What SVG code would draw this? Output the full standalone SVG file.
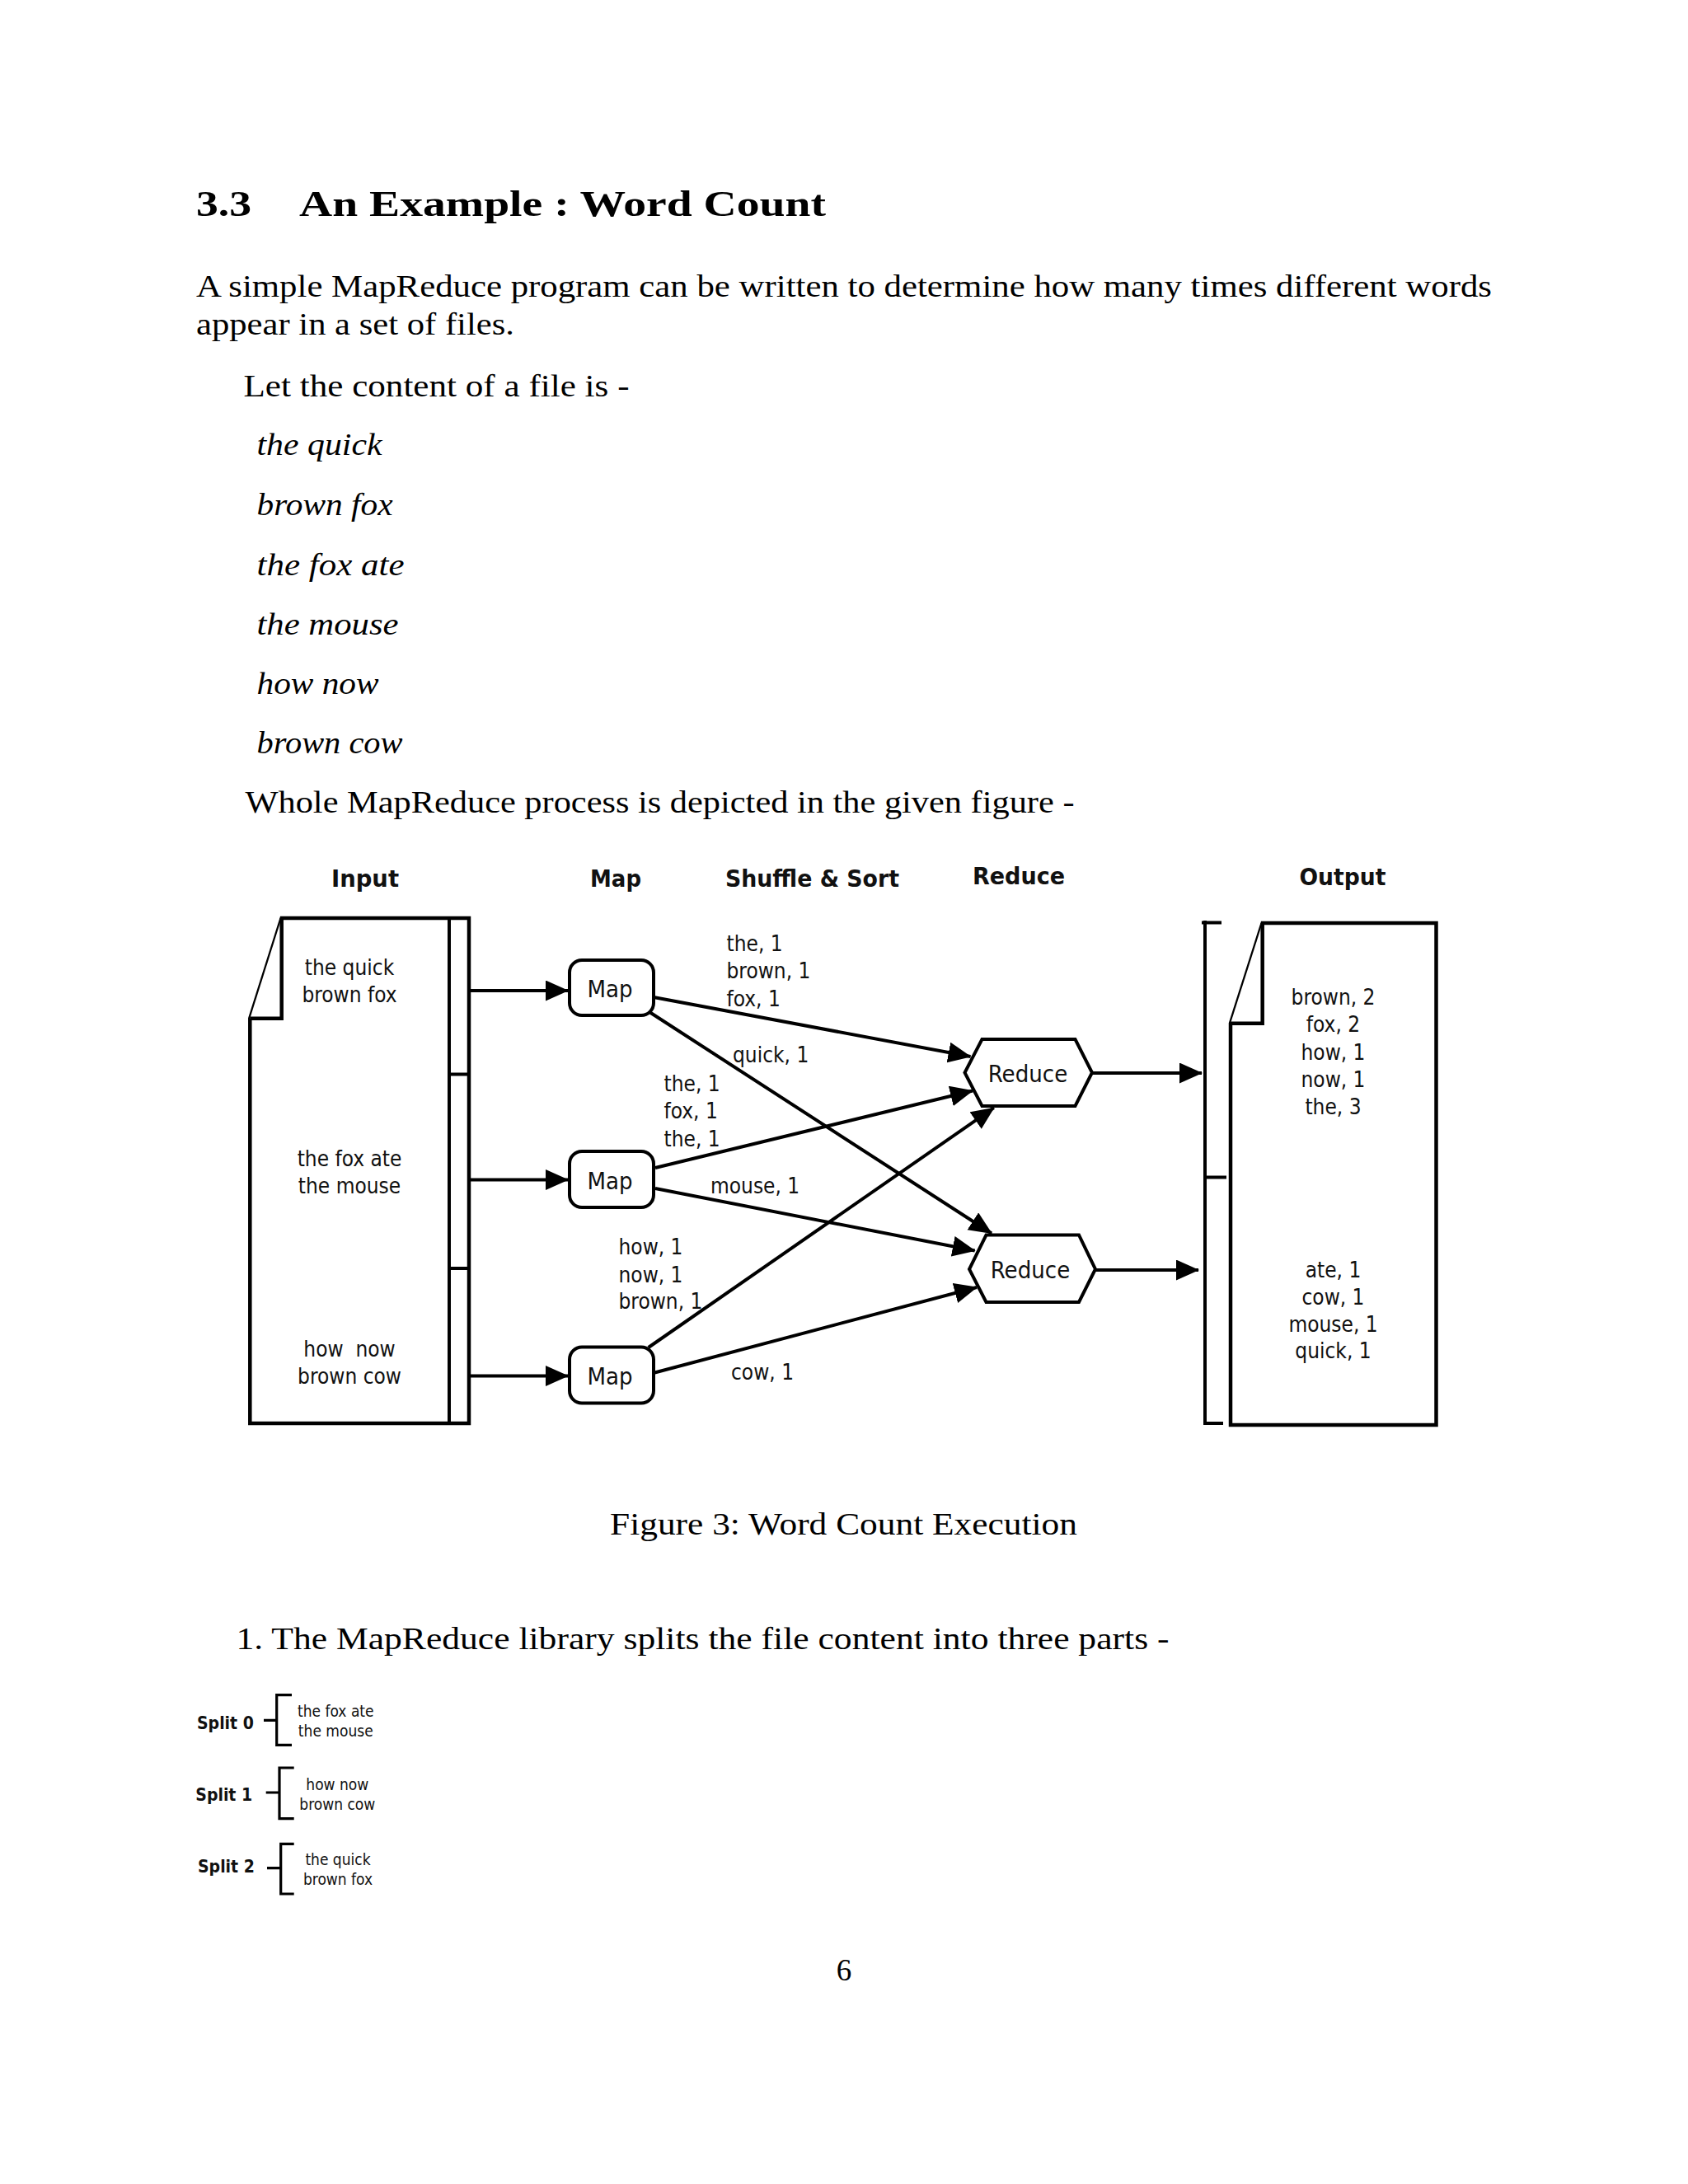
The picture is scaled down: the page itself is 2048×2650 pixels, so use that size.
<svg xmlns="http://www.w3.org/2000/svg" width="2048" height="2650" viewBox="0 0 2048 2650">
<defs>
<style>
.t{font-family:"Liberation Serif","Times New Roman",serif;font-size:37px;fill:#000}
.ti{font-style:italic}
.h{font-weight:bold;font-size:45px}
.d{font-family:"DejaVu Sans Condensed","DejaVu Sans",sans-serif;font-size:26px;fill:#111}
.dm{font-size:29px}
.db{font-family:"DejaVu Sans Condensed","DejaVu Sans",sans-serif;font-weight:bold;font-size:28px;fill:#111}
.sb{font-family:"DejaVu Sans Condensed","DejaVu Sans",sans-serif;font-weight:bold;font-size:21px;fill:#111}
.ss{font-family:"DejaVu Sans Condensed","DejaVu Sans",sans-serif;font-size:19px;fill:#111}
.ln{stroke:#000;stroke-width:4;fill:none}
.bx{stroke:#000;stroke-width:4;fill:#fff}
.doc{stroke:#000;stroke-width:4.5;fill:#fff;stroke-linejoin:miter}
.br{stroke:#000;stroke-width:3.2;fill:none}
</style>
<marker id="ah" markerUnits="userSpaceOnUse" markerWidth="30" markerHeight="26" refX="27" refY="12.5" orient="auto">
<path d="M0,0 L28,12.5 L0,25 Z" fill="#000"/>
</marker>
</defs>
<rect x="0" y="0" width="2048" height="2650" fill="#fff"/>

<g id="page-text">
<text class="t h" x="238" y="261.5" textLength="67" lengthAdjust="spacingAndGlyphs">3.3</text>
<text class="t h" x="363" y="261.5" textLength="639" lengthAdjust="spacingAndGlyphs">An Example : Word Count</text>
<text class="t" x="238" y="360" textLength="1572" lengthAdjust="spacingAndGlyphs">A simple MapReduce program can be written to determine how many times different words</text>
<text class="t" x="238" y="406" textLength="386" lengthAdjust="spacingAndGlyphs">appear in a set of files.</text>
<text class="t" x="295.5" y="480.5" textLength="468" lengthAdjust="spacingAndGlyphs">Let the content of a file is -</text>
<text class="t ti" x="311.5" y="552" textLength="152" lengthAdjust="spacingAndGlyphs">the quick</text>
<text class="t ti" x="311.5" y="624.5" textLength="165" lengthAdjust="spacingAndGlyphs">brown fox</text>
<text class="t ti" x="311.5" y="697.5" textLength="179" lengthAdjust="spacingAndGlyphs">the fox ate</text>
<text class="t ti" x="311.5" y="770" textLength="172" lengthAdjust="spacingAndGlyphs">the mouse</text>
<text class="t ti" x="311.5" y="841.5" textLength="148" lengthAdjust="spacingAndGlyphs">how now</text>
<text class="t ti" x="311.5" y="914" textLength="177" lengthAdjust="spacingAndGlyphs">brown cow</text>
<text class="t" x="297.5" y="985.5" textLength="1006" lengthAdjust="spacingAndGlyphs">Whole MapReduce process is depicted in the given figure -</text>
<text class="t" x="740" y="1862" textLength="567" lengthAdjust="spacingAndGlyphs">Figure 3: Word Count Execution</text>
<text class="t" x="286.5" y="2001" textLength="1132" lengthAdjust="spacingAndGlyphs">1. The MapReduce library splits the file content into three parts -</text>
<text class="t" x="1024" y="2403" text-anchor="middle" font-size="38">6</text>
</g>

<g id="headers">
<text class="db" x="443" y="1076" text-anchor="middle" textLength="82" lengthAdjust="spacingAndGlyphs">Input</text>
<text class="db" x="747" y="1076" text-anchor="middle" textLength="62" lengthAdjust="spacingAndGlyphs">Map</text>
<text class="db" x="985.5" y="1076" text-anchor="middle" textLength="211" lengthAdjust="spacingAndGlyphs">Shuffle &amp; Sort</text>
<text class="db" x="1236" y="1072.5" text-anchor="middle" textLength="112" lengthAdjust="spacingAndGlyphs">Reduce</text>
<text class="db" x="1629" y="1074" text-anchor="middle" textLength="105" lengthAdjust="spacingAndGlyphs">Output</text>
</g>

<g id="input-doc">
<path class="doc" d="M341.7,1114 H569 V1727 H303.3 V1235.7 L341.7,1114 Z"/>
<path class="doc" d="M341.7,1114 V1235.7 H303.3"/>
<path class="ln" stroke-width="4.5" d="M545,1114 V1727 M545,1303.5 H569 M545,1539 H569"/>
<text class="d" x="424" y="1183" text-anchor="middle">the quick</text>
<text class="d" x="424" y="1216" text-anchor="middle">brown fox</text>
<text class="d" x="424" y="1415" text-anchor="middle">the fox ate</text>
<text class="d" x="424" y="1448" text-anchor="middle">the mouse</text>
<text class="d" x="424" y="1646" text-anchor="middle" xml:space="preserve">how  now</text>
<text class="d" x="424" y="1679" text-anchor="middle">brown cow</text>
</g>

<g id="map1">
<rect class="bx" x="691" y="1165" width="102" height="67" rx="15" ry="15"/>
<text class="d dm" x="740" y="1210" text-anchor="middle">Map</text>
</g>
<g id="map2">
<rect class="bx" x="691" y="1397" width="102" height="68" rx="15" ry="15"/>
<text class="d dm" x="740" y="1442.5" text-anchor="middle">Map</text>
</g>
<g id="map3">
<rect class="bx" x="691" y="1634.5" width="102" height="68" rx="15" ry="15"/>
<text class="d dm" x="740" y="1680" text-anchor="middle">Map</text>
</g>

<g id="reduce1">
<polygon class="bx" points="1191.5,1261 1304.5,1261 1325,1301.5 1304.5,1342 1191.5,1342 1170.5,1301.5"/>
<text class="d dm" x="1247" y="1312.5" text-anchor="middle">Reduce</text>
</g>
<g id="reduce2">
<polygon class="bx" points="1196.5,1498.5 1309,1498.5 1329,1540 1309,1580 1196.5,1580 1176,1540"/>
<text class="d dm" x="1250" y="1551" text-anchor="middle">Reduce</text>
</g>

<g id="output-doc">
<path class="ln" stroke-width="4.5" d="M1462,1117 V1729 M1458,1119.5 H1482 M1462,1428.5 H1488 M1462,1727 H1484"/>
<path class="doc" d="M1531.7,1120 H1742.5 V1729 H1493 V1241.7 L1531.7,1120 Z"/>
<path class="doc" d="M1531.7,1120 V1241.7 H1493"/>
<text class="d" x="1617.5" y="1218.5" text-anchor="middle">brown, 2</text>
<text class="d" x="1617.5" y="1252" text-anchor="middle">fox, 2</text>
<text class="d" x="1617.5" y="1285.5" text-anchor="middle">how, 1</text>
<text class="d" x="1617.5" y="1318.5" text-anchor="middle">now, 1</text>
<text class="d" x="1617.5" y="1351.5" text-anchor="middle">the, 3</text>
<text class="d" x="1617.5" y="1550" text-anchor="middle">ate, 1</text>
<text class="d" x="1617.5" y="1583" text-anchor="middle">cow, 1</text>
<text class="d" x="1617.5" y="1616" text-anchor="middle">mouse, 1</text>
<text class="d" x="1617.5" y="1648" text-anchor="middle">quick, 1</text>
</g>

<g id="connectors">
<line class="ln" x1="569" y1="1202" x2="689" y2="1202" marker-end="url(#ah)"/>
<line class="ln" x1="569" y1="1431.5" x2="689" y2="1431.5" marker-end="url(#ah)"/>
<line class="ln" x1="569" y1="1669.5" x2="689" y2="1669.5" marker-end="url(#ah)"/>
<line class="ln" x1="793" y1="1210" x2="1177.5" y2="1282" marker-end="url(#ah)"/>
<line class="ln" x1="788" y1="1228" x2="1203" y2="1496.5" marker-end="url(#ah)"/>
<line class="ln" x1="795" y1="1417" x2="1180" y2="1323.5" marker-end="url(#ah)"/>
<line class="ln" x1="795" y1="1442" x2="1182.7" y2="1517.5" marker-end="url(#ah)"/>
<line class="ln" x1="786.7" y1="1635" x2="1205.8" y2="1344.2" marker-end="url(#ah)"/>
<line class="ln" x1="792.5" y1="1666" x2="1185" y2="1562" marker-end="url(#ah)"/>
<line class="ln" x1="1325" y1="1302" x2="1458" y2="1302" marker-end="url(#ah)"/>
<line class="ln" x1="1329" y1="1541" x2="1454" y2="1541" marker-end="url(#ah)"/>
</g>

<g id="kv-labels">
<text class="d" x="881.5" y="1154">the, 1</text>
<text class="d" x="881.5" y="1187">brown, 1</text>
<text class="d" x="881.5" y="1221">fox, 1</text>
<text class="d" x="889" y="1289">quick, 1</text>
<text class="d" x="805.5" y="1323.5">the, 1</text>
<text class="d" x="805.5" y="1357">fox, 1</text>
<text class="d" x="805.5" y="1390.5">the, 1</text>
<text class="d" x="862" y="1447.5">mouse, 1</text>
<text class="d" x="750.5" y="1522">how, 1</text>
<text class="d" x="750.5" y="1555.5">now, 1</text>
<text class="d" x="750.5" y="1588">brown, 1</text>
<text class="d" x="887" y="1674">cow, 1</text>
</g>

<g id="split0">
<text class="sb" x="239" y="2098">Split 0</text>
<path class="br" d="M320,2087.3 H335.7 M354,2056.7 H335.7 V2117.3 H354"/>
<text class="ss" x="407.3" y="2082.7" text-anchor="middle">the fox ate</text>
<text class="ss" x="407.3" y="2106.7" text-anchor="middle">the mouse</text>
</g>
<g id="split1">
<text class="sb" x="237.3" y="2185">Split 1</text>
<path class="br" d="M322.7,2175 H339 M356.7,2145 H339 V2206.7 H356.7"/>
<text class="ss" x="409.3" y="2171.7" text-anchor="middle">how now</text>
<text class="ss" x="409.3" y="2195.7" text-anchor="middle">brown cow</text>
</g>
<g id="split2">
<text class="sb" x="240" y="2271.7">Split 2</text>
<path class="br" d="M324,2266.7 H340.7 M356.7,2237.3 H340.7 V2298 H356.7"/>
<text class="ss" x="410" y="2263.3" text-anchor="middle">the quick</text>
<text class="ss" x="410" y="2287.3" text-anchor="middle">brown fox</text>
</g>
</svg>
